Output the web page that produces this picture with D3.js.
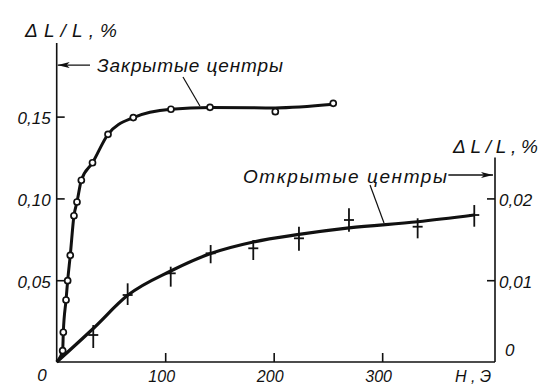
<!DOCTYPE html>
<html>
<head>
<meta charset="utf-8">
<script src="https://cdn.jsdelivr.net/npm/d3@7"></script>
<style>
	body { margin:0; background:#fff; }
	svg text { font-family:"Liberation Sans", Arial, sans-serif; font-style:italic; fill:#111; }
</style>
</head>
<body>
<div id="chart"></div>
<script>
	// closed centres (circles), left scale
	var closedH = [5.5, 6.1, 8.6, 10.1, 12.5, 15.9, 18.7, 22.7, 33.0, 47.3, 70.6, 105.3, 141.3, 201.5, 254.9];
	var closedV = [0.0069, 0.0182, 0.0379, 0.0497, 0.0652, 0.0894, 0.0978, 0.1111, 0.1218, 0.1392, 0.1494, 0.1545, 0.1557, 0.1530, 0.1581];
	var closedLineH = [0, 5.5, 6.1, 8.6, 10.1, 12.5, 15.9, 18.7, 22.7, 33.0, 47.3, 70.6, 105.3, 141.3, 201.5, 254.9];
	var closedLineV = [0, 0.0069, 0.0182, 0.0379, 0.0497, 0.0652, 0.0894, 0.0978, 0.1111, 0.1218, 0.1392, 0.1494, 0.1545, 0.1555, 0.1553, 0.1575];

	// open centres (crosses), right scale
	var openH  = [33.7, 65.4, 105.1, 141.9, 181.2, 223.3, 269.4, 332.7, 384.9];
	var openV  = [0.00330, 0.00819, 0.01084, 0.01329, 0.0139, 0.01512, 0.01736, 0.01654, 0.01797];
	var openLo = [0.00171, 0.00697, 0.00921, 0.01207, 0.01247, 0.01361, 0.01593, 0.01512, 0.01654];
	var openHi = [0.00452, 0.00962, 0.01165, 0.0143, 0.01491, 0.01654, 0.01879, 0.01757, 0.01919];
	var openLineH = [0, 33.7, 65.4, 105.1, 141.9, 181.2, 223.3, 269.4, 332.7, 384.9];
	var openLineV = [0, 0.0041, 0.00815, 0.01112, 0.01326, 0.01467, 0.01560, 0.01640, 0.01715, 0.01797];

	var hTicks = [100, 200, 300];
	var leftTicks = [0.05, 0.10, 0.15];
	var rightTicks = [0.01, 0.02];

	var svg = d3.select('#chart').append('svg')
		.attr('width', 542)
		.attr('height', 386);

	var x  = d3.scaleLinear().domain([0, 404]).range([56.7, 495]);
	var yL = d3.scaleLinear().domain([0, 0.195]).range([362, 43]);
	var yR = d3.scaleLinear().domain([0, 0.039]).range([362, 43]);

	var comma = function(d){ return d3.format('.2f')(d).replace('.', ','); };

	function line(p, w)
	{
		return svg.append('line')
			.attr('x1', p[0]).attr('y1', p[1])
			.attr('x2', p[2]).attr('y2', p[3])
			.attr('stroke', '#111')
			.attr('stroke-width', w);
	}

	// axis lines
	line([x(0), yL(0.195), x(0), yL(0)], 1.6);
	line([x(0), yL(0), x(404), yL(0)], 1.6);
	line([x(404), yR(0), x(404), yR(0.025)], 1.6);

	// ticks
	var gl = svg.append('g').attr('transform', 'translate(' + x(0) + ',0)')
		.call(d3.axisLeft(yL).tickValues(leftTicks).tickSize(-8).tickPadding(6).tickFormat(comma));
	var gb = svg.append('g').attr('transform', 'translate(0,' + yL(0) + ')')
		.call(d3.axisBottom(x).tickValues(hTicks).tickSize(-9).tickFormat(d3.format('d')));
	var gr = svg.append('g').attr('transform', 'translate(' + x(404) + ',0)')
		.call(d3.axisRight(yR).tickValues(rightTicks).tickSize(-8).tickPadding(4).tickFormat(comma));

	svg.selectAll('.domain').remove();
	svg.selectAll('.tick line').attr('stroke', '#111').attr('stroke-width', 1.6);
	svg.selectAll('.tick text')
		.attr('font-family', null).attr('fill', null)
		.style('font-size', '17px');
	gl.selectAll('.tick text').attr('dy', '0.42em');
	gr.selectAll('.tick text').attr('dy', '0.42em');
	gb.selectAll('.tick text').attr('y', 20).attr('dy', 0).attr('dx', -4).style('font-size', '16px');

	function label(txt, px, py, size, len, anchor)
	{
		var t = svg.append('text')
			.attr('x', px).attr('y', py)
			.style('font-size', size + 'px')
			.attr('text-anchor', anchor || 'start')
			.text(txt);
		if(len) t.attr('textLength', len).attr('lengthAdjust', 'spacing');
		return t;
	}

	label('0', 42, 381, 17, 0, 'middle');
	label('0', 505, 356, 17);
	label('Н,Э', 455, 382, 16, 36);
	label('ΔL/L,%', 25, 37, 19, 92);
	label('ΔL/L,%', 453, 153, 19, 85);
	label('Закрытые центры', 97, 72, 19, 186);
	label('Открытые центры', 243, 183, 19, 204);

	// arrows to the axes
	var defs = svg.append('defs');
	defs.append('marker')
		.attr('id', 'ah')
		.attr('viewBox', '0 0 12 6')
		.attr('refX', 12).attr('refY', 3)
		.attr('markerWidth', 12).attr('markerHeight', 6)
		.attr('markerUnits', 'userSpaceOnUse')
		.attr('orient', 'auto')
		.append('path').attr('d', 'M0,0L12,3L0,6L3,3Z').attr('fill', '#111');

	line([x(30.7), yL(0.1815), x(0) + 1, yL(0.1815)], 1.4).attr('marker-end', 'url(#ah)');
	line([x(361), yR(0.02286), x(404) - 2, yR(0.02286)], 1.4).attr('marker-end', 'url(#ah)');

	// leader lines
	line([x(116.4), yL(0.1742), x(132), yL(0.1565)], 1.2);
	line([x(288.8), yR(0.02164), x(301.7), yR(0.01699)], 1.2);

	// curves
	svg.append('path')
		.datum(d3.range(closedLineH.length))
		.attr('fill', 'none')
		.attr('stroke', '#111')
		.attr('stroke-width', 3)
		.attr('d', d3.line()
			.x(function(i){ return x(closedLineH[i]); })
			.y(function(i){ return yL(closedLineV[i]); })
			.curve(d3.curveMonotoneX));

	svg.append('path')
		.datum(d3.range(openLineH.length))
		.attr('fill', 'none')
		.attr('stroke', '#111')
		.attr('stroke-width', 3.2)
		.attr('d', d3.line()
			.x(function(i){ return x(openLineH[i]); })
			.y(function(i){ return yR(openLineV[i]); })
			.curve(d3.curveMonotoneX));

	// circles
	svg.selectAll('circle.closed')
		.data(d3.range(closedH.length))
		.enter().append('circle')
		.attr('class', 'closed')
		.attr('cx', function(i){ return x(closedH[i]); })
		.attr('cy', function(i){ return yL(closedV[i]); })
		.attr('r', 3)
		.attr('fill', '#fff')
		.attr('stroke', '#111')
		.attr('stroke-width', 1.7);

	// crosses with vertical spread
	var cr = svg.selectAll('g.open')
		.data(d3.range(openH.length))
		.enter().append('g')
		.attr('class', 'open');
	cr.append('line')
		.attr('x1', function(i){ return x(openH[i]); })
		.attr('x2', function(i){ return x(openH[i]); })
		.attr('y1', function(i){ return yR(openLo[i]); })
		.attr('y2', function(i){ return yR(openHi[i]); })
		.attr('stroke', '#111').attr('stroke-width', 1.8);
	cr.append('line')
		.attr('x1', function(i){ return x(openH[i]) - 5; })
		.attr('x2', function(i){ return x(openH[i]) + 5; })
		.attr('y1', function(i){ return yR(openV[i]); })
		.attr('y2', function(i){ return yR(openV[i]); })
		.attr('stroke', '#111').attr('stroke-width', 1.8);
</script>
</body>
</html>
